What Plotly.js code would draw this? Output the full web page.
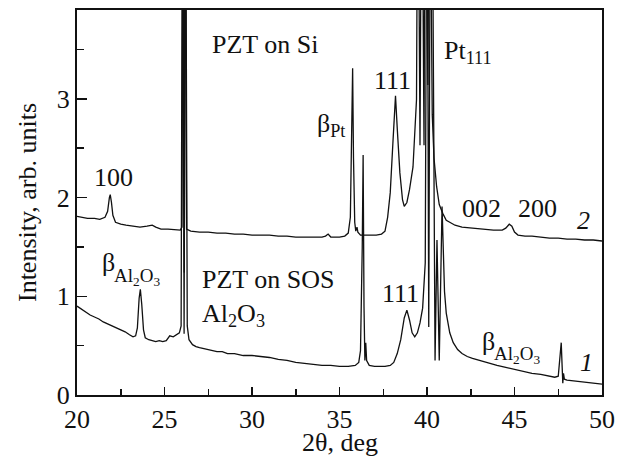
<!DOCTYPE html>
<html>
<head>
<meta charset="utf-8">
<script src="https://cdn.plot.ly/plotly-3.0.1.min.js"></script>
<style>html,body{margin:0;padding:0;background:#fff}#chart{width:623px;height:459px}</style>
</head>
<body>
<div id="chart"></div>
<script>
// Curve 1: PZT on SOS (Al2O3)
const x1 = [20.0,20.25,20.5,20.75,21.0,21.25,21.5,21.75,22.0,22.25,22.5,22.75,23.0,23.2,23.35,23.45,23.55,23.62,23.7,23.8,23.9,24.1,24.3,24.5,24.7,24.9,25.1,25.3,25.5,25.7,25.85,25.95,26.03,26.12,26.2,26.3,26.4,26.6,26.8,27.0,27.3,27.6,28.0,28.3,28.6,29.0,29.5,30.0,30.5,31.0,31.5,32.0,32.5,33.0,33.5,34.0,34.5,35.0,35.5,35.9,36.1,36.2,36.3,36.35,36.4,36.45,36.5,36.55,36.7,37.0,37.3,37.6,37.9,38.1,38.3,38.5,38.7,38.85,39.0,39.15,39.3,39.45,39.6,39.75,39.9,40.0,40.1,40.2,40.28,40.46,40.57,40.7,40.86,40.93,41.0,41.1,41.2,41.3,41.5,41.75,42.0,42.3,42.6,43.0,43.5,44.0,44.5,45.0,45.5,46.0,46.5,47.0,47.3,47.5,47.6,47.67,47.72,47.76,47.8,47.85,48.0,48.5,49.0,49.5,50.0];
const y1 = [0.90,0.87,0.84,0.81,0.79,0.77,0.74,0.72,0.70,0.68,0.66,0.64,0.61,0.59,0.60,0.68,0.98,1.07,0.92,0.66,0.58,0.56,0.55,0.54,0.55,0.54,0.55,0.60,0.59,0.61,0.63,0.70,6,0.62,6,0.70,0.56,0.51,0.49,0.48,0.47,0.46,0.44,0.44,0.42,0.42,0.40,0.40,0.39,0.38,0.36,0.35,0.33,0.32,0.31,0.30,0.30,0.29,0.29,0.30,0.33,0.45,1.5,2.43,0.9,0.35,0.53,0.35,0.30,0.29,0.29,0.29,0.30,0.33,0.42,0.56,0.78,0.86,0.76,0.63,0.59,0.63,0.73,0.88,1.34,6,0.69,6,6,0.35,1.57,0.35,1.91,1.3,1.05,0.83,0.72,0.63,0.53,0.46,0.42,0.39,0.37,0.35,0.32,0.30,0.28,0.26,0.24,0.22,0.21,0.19,0.18,0.19,0.35,0.53,0.30,0.12,0.22,0.16,0.15,0.14,0.13,0.12,0.11];

// Curve 2: PZT on Si
const x2 = [20.0,20.3,20.6,21.0,21.3,21.6,21.75,21.85,21.9,21.97,22.05,22.2,22.5,22.8,23.2,23.6,24.0,24.3,24.5,24.8,25.2,25.6,25.9,26.0,26.07,26.13,26.18,26.26,26.5,27.0,27.5,28.0,28.5,29.0,29.5,30.0,30.5,31.0,31.5,32.0,32.5,33.0,33.5,34.0,34.2,34.35,34.5,35.0,35.3,35.5,35.62,35.7,35.75,35.8,35.87,35.93,36.0,36.05,36.2,36.5,36.8,37.1,37.4,37.6,37.75,37.9,38.05,38.2,38.3,38.45,38.6,38.7,38.85,39.0,39.2,39.4,39.48,39.6,39.7,39.83,39.9,40.05,40.15,40.3,40.4,40.55,40.7,40.9,41.1,41.3,41.6,42.0,42.6,43.2,43.8,44.3,44.5,44.7,44.85,45.0,45.2,45.6,46.0,46.5,47.0,47.5,48.0,48.5,49.0,49.5,50.0];
const y2 = [1.81,1.80,1.79,1.79,1.78,1.80,1.86,2.00,2.03,1.95,1.82,1.75,1.73,1.72,1.71,1.70,1.71,1.72,1.70,1.68,1.68,1.67,1.67,1.70,6,1.24,6,1.68,1.66,1.65,1.65,1.64,1.64,1.63,1.63,1.62,1.62,1.62,1.61,1.61,1.60,1.60,1.60,1.60,1.61,1.63,1.60,1.60,1.61,1.64,1.80,2.6,3.31,2.4,1.75,1.66,1.70,1.65,1.62,1.62,1.62,1.62,1.63,1.66,1.80,2.05,2.55,3.03,2.70,2.25,1.98,1.91,1.95,2.08,2.31,2.99,6,2.53,6,2.53,6,3.14,6,2.84,2.40,2.11,1.93,1.84,1.77,1.75,1.72,1.70,1.69,1.68,1.67,1.67,1.69,1.73,1.71,1.65,1.62,1.61,1.61,1.60,1.59,1.59,1.58,1.58,1.57,1.57,1.56];

const xTickVals = [20,25,30,35,40,45,50];
const yTickVals = [0,1,2,3];

const FAMILY = 'Liberation Serif';
const mkFont = (s) => ({family: FAMILY, color: '#111', size: s || 26});
const lineStyle = () => ({color: '#111', width: 1.3});

const traces = [
  {x: x1, y: y1, type: 'scatter', mode: 'lines', line: lineStyle(), hoverinfo: 'skip'},
  {x: x2, y: y2, type: 'scatter', mode: 'lines', line: lineStyle(), hoverinfo: 'skip'}
];

const ann = (x, y, text, extra, size) => Object.assign({x, y, xref: 'x', yref: 'y', text, showarrow: false, font: mkFont(size)}, extra || {});

const layout = {
  width: 623, height: 459,
  margin: {l: 77, r: 21, t: 10, b: 64},
  paper_bgcolor: '#fff', plot_bgcolor: '#fff',
  showlegend: false,
  font: mkFont(),
  xaxis: {
    range: [20, 50], tickvals: xTickVals, ticks: 'inside', ticklen: 8, tickwidth: 1.5, tickcolor: '#111',
    showline: true, linewidth: 2, linecolor: '#111', mirror: true, showgrid: false, zeroline: false,
    minor: {dtick: 2.5, ticks: 'inside', ticklen: 6, tickwidth: 1.5, tickcolor: '#111', showgrid: false},
    tickfont: mkFont()
  },
  yaxis: {
    range: [0, 3.9], tickvals: yTickVals, ticks: 'inside', ticklen: 10, tickwidth: 1.5, tickcolor: '#111',
    showline: true, linewidth: 2, linecolor: '#111', mirror: true, showgrid: false, zeroline: false,
    minor: {dtick: 0.5, ticks: 'inside', ticklen: 7, tickwidth: 1.5, tickcolor: '#111', showgrid: false},
    tickfont: mkFont(), title: {text: 'Intensity, arb. units', font: mkFont(), standoff: 13}
  },
  annotations: [
    {x: 0.5, y: -0.164, xref: 'paper', yref: 'paper', xanchor: 'center', yanchor: 'bottom', borderpad: 0, text: '2θ, deg', showarrow: false, font: mkFont()},
    ann(27.6, 3.55, 'PZT on Si', {xanchor: 'left'}),
    ann(22.06, 2.2, '100'),
    ann(33.6, 2.74, 'β<sub>Pt</sub>', {xanchor: 'left'}),
    ann(38.05, 3.19, '111'),
    ann(40.86, 3.47, 'Pt<sub>111</sub>', {xanchor: 'left'}),
    ann(43.1, 1.89, '002'),
    ann(46.3, 1.89, '200'),
    ann(48.97, 1.77, '<i>2</i>'),
    ann(21.3, 1.34, 'β', {xanchor: 'left'}),
    ann(22.02, 1.2, 'Al<sub>2</sub>O<sub>3</sub>', {xanchor: 'left'}, 19),
    ann(27.0, 1.17, 'PZT on SOS', {xanchor: 'left'}),
    ann(27.0, 0.81, 'Al<sub>2</sub>O<sub>3</sub>', {xanchor: 'left'}),
    ann(38.5, 1.03, '111'),
    ann(43.0, 0.54, 'β', {xanchor: 'left'}),
    ann(43.72, 0.41, 'Al<sub>2</sub>O<sub>3</sub>', {xanchor: 'left'}, 19),
    ann(49.1, 0.33, '<i>1</i>')
  ]
};

Plotly.newPlot('chart', traces, layout, {staticPlot: true, displayModeBar: false});
</script>
</body>
</html>
